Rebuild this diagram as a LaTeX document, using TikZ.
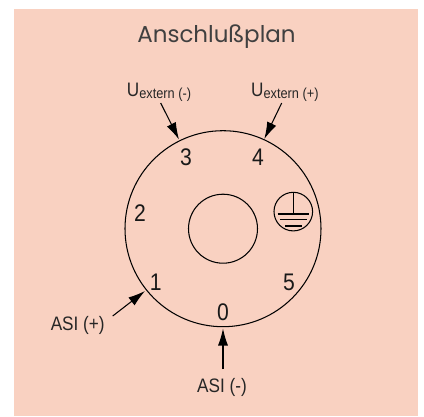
\documentclass[tikz,border=0pt]{standalone}
\usepackage{fontspec}
\setmainfont{Liberation Sans}
\newfontfamily\titlefont{Poppins}
\newfontfamily\labelfont[FakeStretch=0.88]{Liberation Sans}
\usetikzlibrary{arrows.meta}
\definecolor{panel}{HTML}{F9D1C1}
\tikzset{
  wire/.style={line width=1.05pt,black},
  pin/.style={wire,-{Latex[length=17pt,width=10pt]},shorten >=0pt},
  lbl/.style={inner sep=0pt,font=\labelfont\fontsize{19.5}{20}\selectfont,text=black!85},
  num/.style={inner sep=0pt,font=\labelfont\fontsize{24}{24}\selectfont,text=black!90},
}
\newcommand{\lowsub}[1]{\raisebox{-2pt}{\fontsize{14.5}{15}\selectfont #1}}
\begin{document}
\begin{tikzpicture}[x=1pt,y=-1pt]
\useasboundingbox (0,0) rectangle (424,416);
\fill[panel] (14,9) rectangle (418,416);
\node[inner sep=0pt,font=\titlefont\fontsize{23}{24}\selectfont,text=black!75] (title) at (216.5,37) {Anschlußplan};
\node[circle,draw,wire,minimum size=196pt,inner sep=0pt] (body) at (223,228.7) {};
\node[circle,draw,wire,minimum size=69pt,inner sep=0pt] (hub) at (223,228.7) {};
\node[circle,draw,wire,minimum size=38.6pt,inner sep=0pt] (pe) at (293.3,211.6) {};
\coordinate (peb) at (293.3,214);
\draw[wire] (pe.north) -- (peb);
\draw[wire] (277.5,214) -- (309,214);
\draw[wire] (280,219.5) -- (306.5,219.5);
\draw[wire] (285,226) -- (301.5,226);
\node[num] (n3) at (186,157) {3};
\node[num] (n4) at (258,157) {4};
\node[num] (n2) at (140,212.7) {2};
\node[num] (n1) at (155.7,282.7) {1};
\node[num] (n5) at (289,282.7) {5};
\node[num] (n0) at (223,312.7) {0};
\node[lbl,anchor=base west] (um) at (126.7,96) {U\lowsub{extern (-)}};
\node[lbl,anchor=base west] (up) at (251,96) {U\lowsub{extern (+)}};
\node[lbl,anchor=base] (ap) at (77.7,330) {ASI (+)};
\node[lbl,anchor=base] (am) at (222,392) {ASI (-)};
\coordinate (a3) at (179,139.5);
\coordinate (a4) at (264.3,139);
\coordinate (a1) at (145,291);
\coordinate (a0) at (223,328.5);
\coordinate (s3) at (160.7,103);
\coordinate (s4) at (281.7,103);
\coordinate (s1) at (112.7,316);
\coordinate (s0) at (223,369);
\draw[pin] (s3) -- (a3);
\draw[pin] (s4) -- (a4);
\draw[pin] (s1) -- (a1);
\draw[pin] (s0) -- (a0);
\end{tikzpicture}
\end{document}
